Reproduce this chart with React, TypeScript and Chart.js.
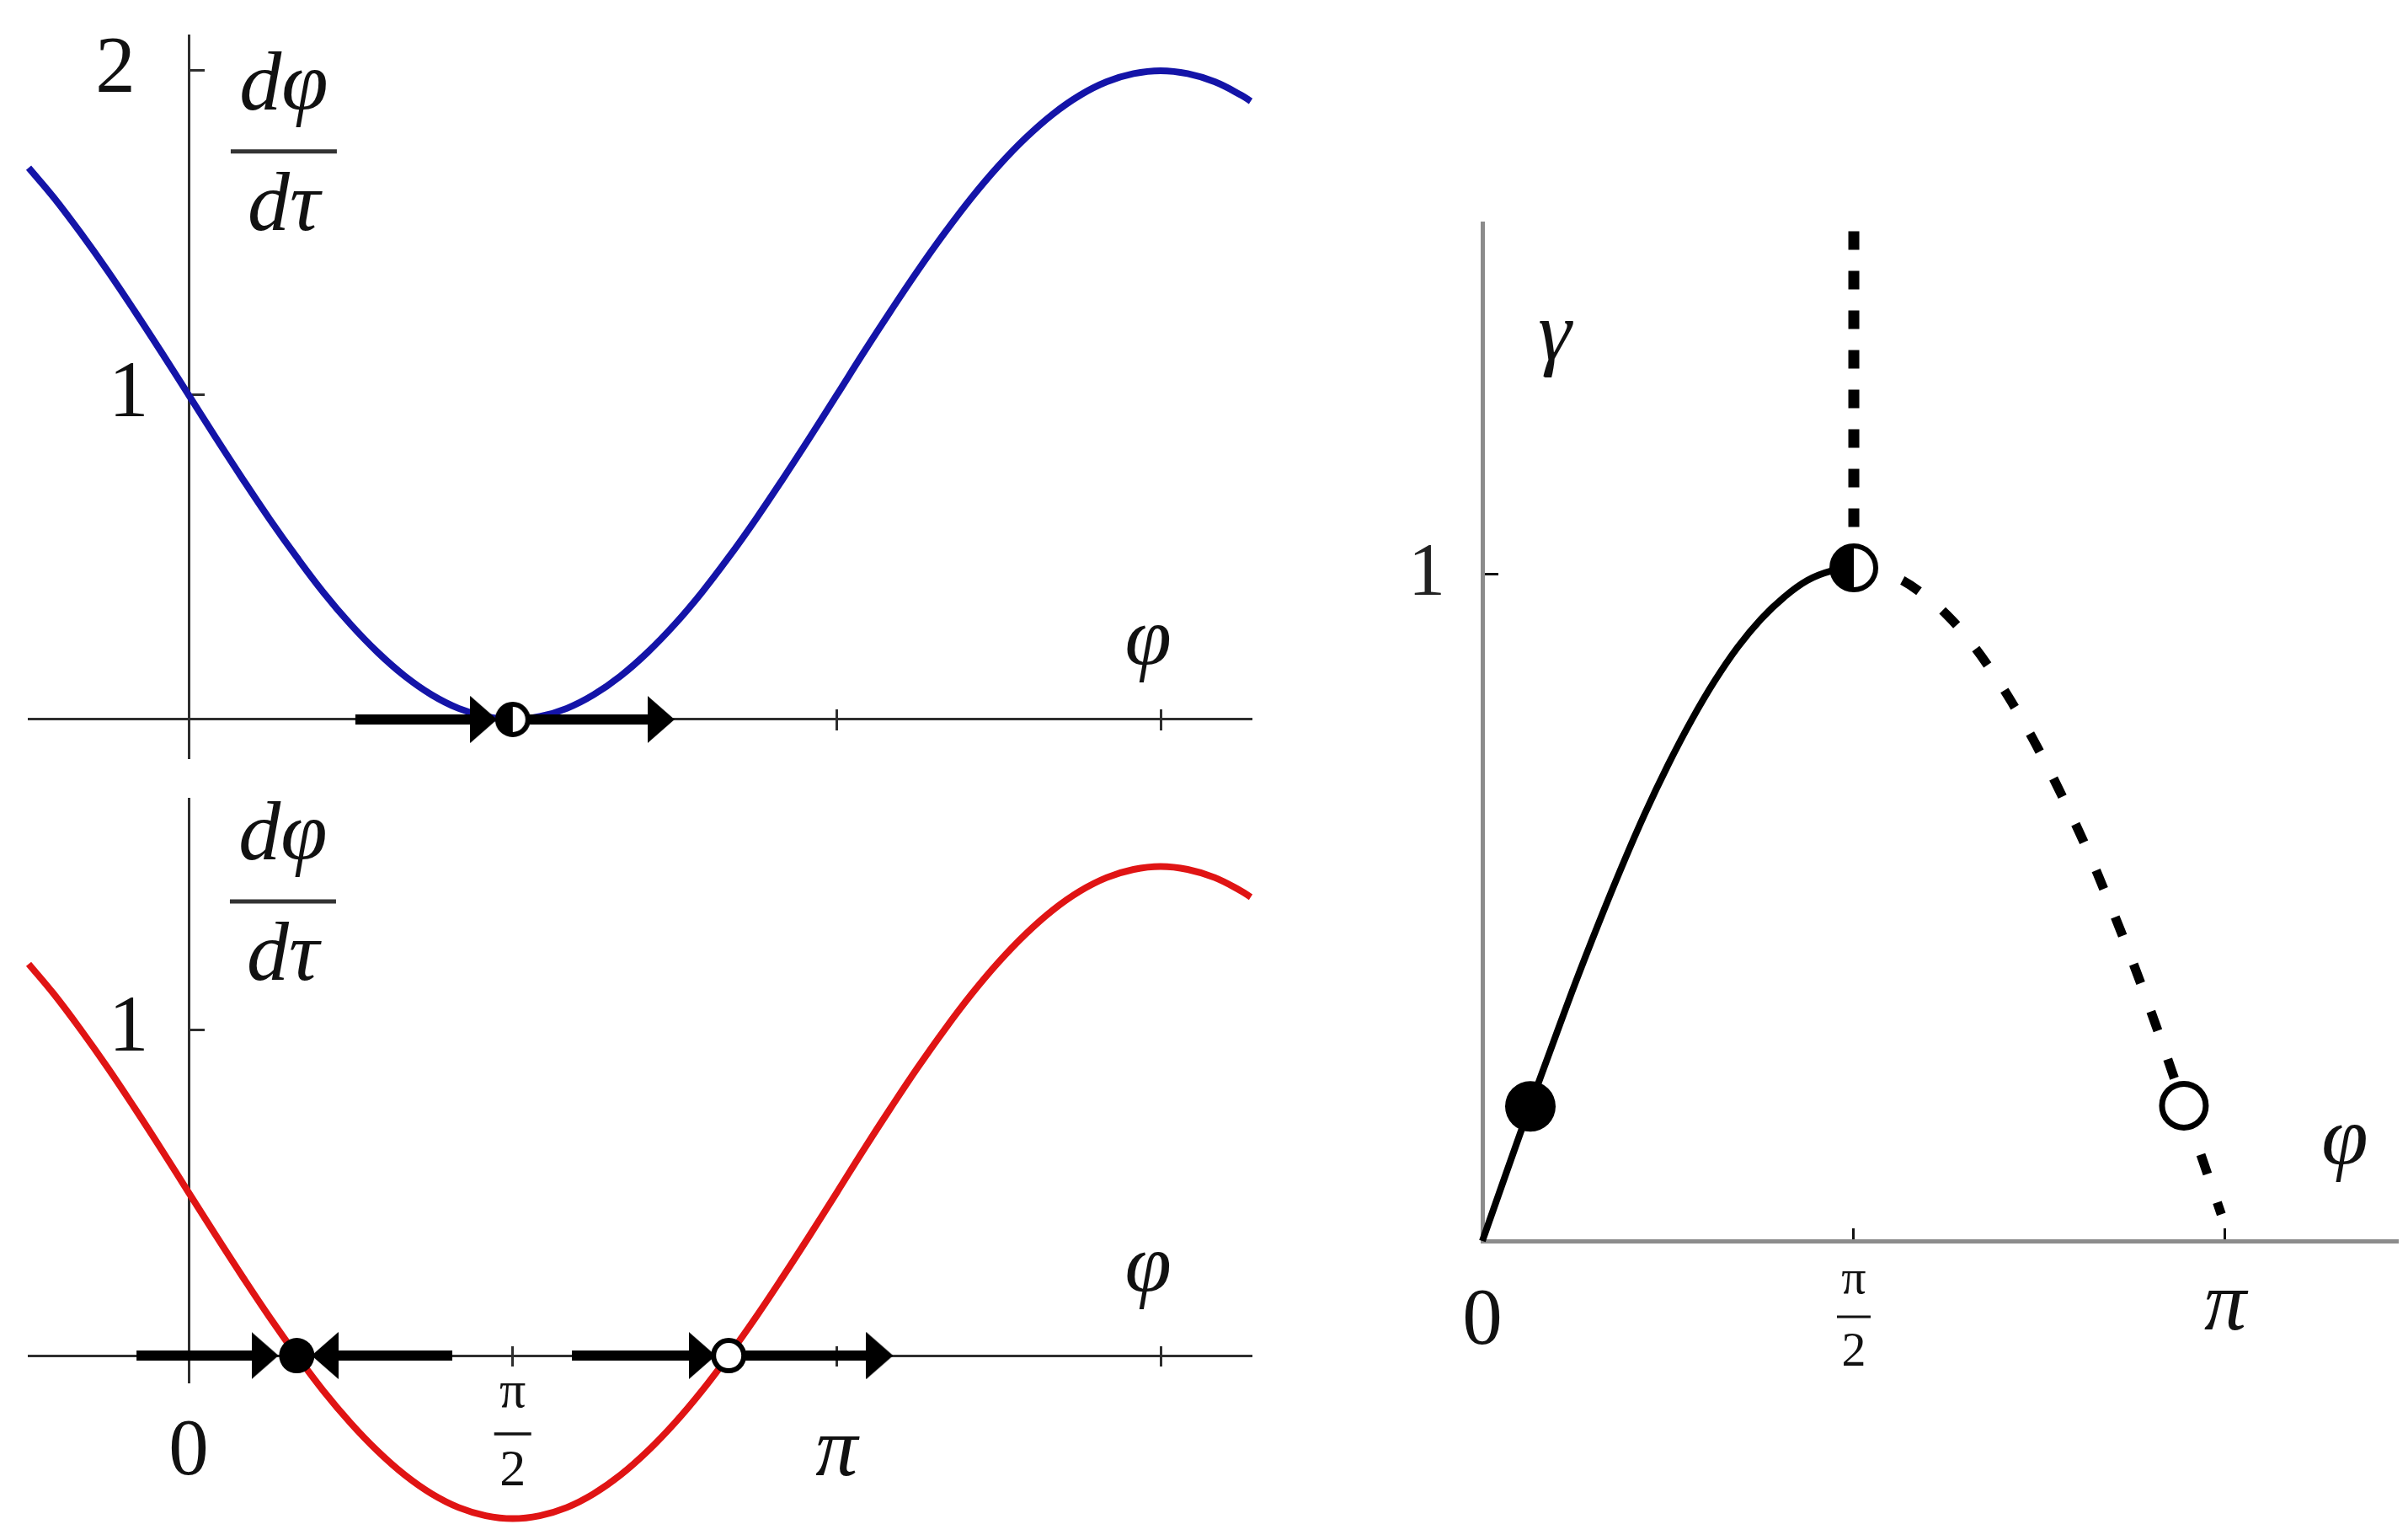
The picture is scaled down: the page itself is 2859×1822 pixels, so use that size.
import React, { useEffect, useRef } from 'react';
import { Chart, registerables } from 'chart.js';

Chart.register(...registerables);

const PI = Math.PI;

// ---------- data ----------
// φ samples (radians) shared by the two left panels
const PHI_SAMPLES = [
  -0.776, -0.654, -0.524, -0.393, -0.262, -0.131, 0, 0.131, 0.262, 0.393, 0.524, 0.654, 0.785, 0.916, 1.047, 1.178,
  1.309, 1.44, 1.571, 1.702, 1.833, 1.963, 2.094, 2.225, 2.356, 2.487, 2.618, 2.749, 2.88, 3.011, 3.142, 3.272,
  3.403, 3.534, 3.665, 3.796, 3.927, 4.058, 4.189, 4.32, 4.451, 4.581, 4.712, 4.843, 4.974, 5.105, 5.149,
];
// dφ/dτ, upper (blue) panel
const RATE_BLUE = [
  1.701, 1.609, 1.5, 1.383, 1.259, 1.131, 1.0, 0.869, 0.741, 0.617, 0.5, 0.391, 0.293, 0.207, 0.134, 0.076,
  0.034, 0.009, 0.0, 0.009, 0.034, 0.076, 0.134, 0.207, 0.293, 0.391, 0.5, 0.617, 0.741, 0.869, 1.0, 1.131,
  1.259, 1.383, 1.5, 1.609, 1.707, 1.793, 1.866, 1.924, 1.966, 1.991, 2.0, 1.991, 1.966, 1.924, 1.906,
];
// dφ/dτ, lower (red) panel
const RATE_RED = [
  1.201, 1.109, 1.0, 0.883, 0.759, 0.631, 0.5, 0.369, 0.241, 0.117, 0.0, -0.109, -0.207, -0.293, -0.366, -0.424,
  -0.466, -0.491, -0.5, -0.491, -0.466, -0.424, -0.366, -0.293, -0.207, -0.109, 0.0, 0.117, 0.241, 0.369, 0.5, 0.631,
  0.759, 0.883, 1.0, 1.109, 1.207, 1.293, 1.366, 1.424, 1.466, 1.491, 1.5, 1.491, 1.466, 1.424, 1.406,
];

// fixed points on the φ axis
const BLUE_HALF_STABLE = [1.571];
const RED_STABLE = [0.524];
const RED_UNSTABLE = [2.618];

// flow arrows on the φ axis: shafts [from, to] and arrow heads
const BLUE_FLOW = [[0.808, 1.43], [1.571, 2.28]];
const BLUE_HEADS_RIGHT = [1.43, 2.29];
const RED_FLOW = [[-0.253, 0.37], [0.66, 1.278], [1.858, 2.49], [2.618, 3.35]];
const RED_HEADS_RIGHT = [0.37, 2.49, 3.35];
const RED_HEADS_LEFT = [0.661];

// right panel: γ against φ
const PHI_STABLE_BRANCH = [0, 0.098, 0.196, 0.295, 0.393, 0.491, 0.589, 0.687, 0.785, 0.884, 0.982, 1.08, 1.178, 1.276, 1.374, 1.473, 1.571];
const GAMMA_STABLE_BRANCH = [0, 0.099, 0.197, 0.293, 0.387, 0.476, 0.561, 0.641, 0.714, 0.781, 0.84, 0.891, 0.933, 0.966, 0.991, 1.005, 1.01];
const PHI_UNSTABLE_BRANCH = [1.571, 1.669, 1.767, 1.865, 1.963, 2.062, 2.16, 2.258, 2.356, 2.454, 2.553, 2.651, 2.749, 2.847, 2.945, 3.043, 3.125];
const GAMMA_UNSTABLE_BRANCH = [1.01, 1.006, 0.993, 0.97, 0.94, 0.9, 0.852, 0.797, 0.735, 0.666, 0.591, 0.508, 0.42, 0.325, 0.225, 0.125, 0.04];
const PHI_VERTICAL = [1.571, 1.571];
const GAMMA_VERTICAL = [1.515, 1.01];
const GAMMA_STABLE_POINT = [0.203, 0.202];
const GAMMA_HALF_POINT = [1.571, 1.01];
const GAMMA_UNSTABLE_POINT = [2.967, 0.203];

// ticks
const LEFT_X_TICKS = [0, PI / 2, PI, (3 * PI) / 2];
const LEFT_X_LABELS: any[] = ['0', ['π', '2'], 'π', ''];
const RIGHT_X_TICKS = [0, PI / 2, PI];
const RIGHT_X_LABELS: any[] = ['0', ['π', '2'], 'π'];
const TOP_Y_TICKS = [1, 2];
const BOTTOM_Y_TICKS = [1];
const RIGHT_Y_TICKS = [1];

// ---------- styling ----------
const W = 2859;
const H = 1822;
const SERIF = '"Liberation Serif", "Times New Roman", Times, serif';
const INK = '#111111';
const AXIS_LEFT = '#2e2e2e';
const AXIS_RIGHT = '#8c8c8c';
const BLUE = '#1414a8';
const RED = '#e01414';
const LEFT_X_MIN = -0.776;
const LEFT_X_MAX = 5.149;

Chart.defaults.font.family = SERIF;

function setTicks(values: number[]) {
  return (scale: any) => {
    scale.ticks = values.map((value) => ({ value }));
  };
}
function zeroPad(scale: any) {
  scale.paddingLeft = 0;
  scale.paddingRight = 0;
  scale.paddingTop = 0;
  scale.paddingBottom = 0;
}
const pts = (xs: number[], ys: number[]) => xs.map((x, i) => ({ x, y: ys[i] }));
const onAxis = (xs: number[]) => xs.map((x) => ({ x, y: 0 }));
const near = (a: number, b: number) => Math.abs(a - b) < 1e-6;

function tickFont(frac: number[], zero: number[], pi: number[]) {
  return (ctx: any) => {
    const v = ctx.tick ? ctx.tick.value : 0;
    if (near(v, PI / 2)) return { family: SERIF, size: frac[0], lineHeight: frac[1] };
    if (near(v, PI)) return { family: SERIF, size: pi[0], lineHeight: pi[1], style: 'italic' };
    return { family: SERIF, size: zero[0], lineHeight: zero[1] };
  };
}

const yLabel = (v: any) => (v === 2 ? '2\u00a0\u00a0\u2006' : `${v}\u00a0\u00a0`);

const figureText = {
  id: 'figureText',
  afterDraw(chart: any, _args: any, opts: any) {
    const { ctx, scales } = chart;
    const items = (opts && opts.items) || [];
    ctx.save();
    ctx.fillStyle = INK;
    ctx.textAlign = 'center';
    ctx.textBaseline = 'alphabetic';
    for (const it of items) {
      if (it.kind === 'text') {
        const x = scales.x.getPixelForValue(it.at[0]);
        const y = scales.y.getPixelForValue(it.at[1]);
        ctx.font = `italic 100px ${SERIF}`;
        ctx.fillText(it.text, x, y);
      } else if (it.kind === 'fraction') {
        const x = scales.x.getPixelForValue(it.at[0]);
        const y = scales.y.getPixelForValue(it.at[1]);
        ctx.font = `italic 100px ${SERIF}`;
        ctx.fillText(it.top, x, y - 50);
        ctx.fillText(it.bottom, x, y + 93);
        ctx.beginPath();
        ctx.moveTo(x - 63, y);
        ctx.lineTo(x + 63, y);
        ctx.lineWidth = 5;
        ctx.strokeStyle = '#333333';
        ctx.stroke();
      } else if (it.kind === 'tickBar') {
        const x = scales.x.getPixelForValue(it.value);
        const y = scales.y.getPixelForValue(0) + it.dy;
        ctx.beginPath();
        ctx.moveTo(x - it.half, y);
        ctx.lineTo(x + it.half, y);
        ctx.lineWidth = it.width;
        ctx.strokeStyle = INK;
        ctx.stroke();
      }
    }
    ctx.restore();
  },
};

function makeArrowHead(w: number, h: number) {
  const c = document.createElement('canvas');
  c.width = w;
  c.height = h;
  const g = c.getContext('2d')!;
  g.fillStyle = '#000';
  g.beginPath();
  g.moveTo(0, 0);
  g.lineTo(w, h / 2);
  g.lineTo(0, h);
  g.closePath();
  g.fill();
  return c;
}

function makeHalfDot(r: number, lw: number) {
  const s = Math.ceil(2 * r + 2);
  const c = document.createElement('canvas');
  c.width = s;
  c.height = s;
  const g = c.getContext('2d')!;
  const m = s / 2;
  const ri = r - lw / 2;
  g.beginPath();
  g.arc(m, m, ri, 0, 2 * Math.PI);
  g.fillStyle = '#fff';
  g.fill();
  g.beginPath();
  g.moveTo(m, m);
  g.arc(m, m, ri, Math.PI / 2, Math.PI * 1.5);
  g.closePath();
  g.fillStyle = '#000';
  g.fill();
  g.beginPath();
  g.arc(m, m, ri, 0, 2 * Math.PI);
  g.lineWidth = lw;
  g.strokeStyle = '#000';
  g.stroke();
  return c;
}

function flowShafts(bars: number[][]) {
  return bars.map(([a, b]) => ({
    data: [{ x: a, y: 0 }, { x: b, y: 0 }],
    borderColor: '#000',
    borderWidth: 12,
    borderCapStyle: 'butt',
    pointRadius: 0,
    clip: false,
    order: 2,
  }));
}

const smoothCurve = { tension: 0.4, capBezierPoints: false, pointRadius: 0, clip: false };

function leftScales(yMin: number, yMax: number, yTicks: number[], xLabels: any[] | null) {
  return {
    x: {
      type: 'linear',
      min: LEFT_X_MIN,
      max: LEFT_X_MAX,
      position: { y: 0 },
      afterBuildTicks: setTicks(LEFT_X_TICKS),
      afterFit: zeroPad,
      border: { display: true, color: AXIS_LEFT, width: 3 },
      grid: { drawOnChartArea: false, drawTicks: true, tickLength: -13, color: AXIS_LEFT, lineWidth: 3 },
      ticks: xLabels
        ? {
            display: true,
            autoSkip: false,
            maxRotation: 0,
            minRotation: 0,
            padding: 11.5,
            color: INK,
            callback: (_v: any, i: number) => xLabels[i],
            font: tickFont([62, 1.5], [95, 2.47], [100, 2.35]),
          }
        : { display: false },
    },
    x2: {
      type: 'linear',
      axis: 'x',
      min: LEFT_X_MIN,
      max: LEFT_X_MAX,
      position: { y: 0 },
      afterBuildTicks: setTicks(LEFT_X_TICKS),
      afterFit: zeroPad,
      border: { display: false },
      grid: { drawOnChartArea: false, drawTicks: true, tickLength: 13, color: AXIS_LEFT, lineWidth: 3 },
      ticks: { display: false },
    },
    y: {
      type: 'linear',
      min: yMin,
      max: yMax,
      position: { x: 0 },
      afterBuildTicks: setTicks(yTicks),
      afterFit: zeroPad,
      border: { display: true, color: AXIS_LEFT, width: 3 },
      grid: { drawOnChartArea: false, drawTicks: true, tickLength: -20, color: AXIS_LEFT, lineWidth: 3 },
      ticks: {
        autoSkip: false,
        color: INK,
        font: { family: SERIF, size: 95 },
        callback: yLabel,
      },
    },
  };
}

const baseOptions = {
  responsive: false,
  maintainAspectRatio: false,
  animation: false,
  devicePixelRatio: 1,
  events: [],
};

function topConfig(): any {
  const arrow = makeArrowHead(32, 56);
  const half = makeHalfDot(21, 6);
  return {
    type: 'line',
    data: {
      datasets: [
        { data: onAxis(BLUE_HALF_STABLE), showLine: false, pointStyle: half, pointRadius: 10, clip: false, order: 0 },
        { data: onAxis(BLUE_HEADS_RIGHT), showLine: false, pointStyle: arrow, pointRadius: 10, clip: false, order: 1 },
        ...flowShafts(BLUE_FLOW),
        { data: pts(PHI_SAMPLES, RATE_BLUE), borderColor: BLUE, borderWidth: 8, ...smoothCurve, order: 3 },
      ],
    },
    options: {
      ...baseOptions,
      layout: { autoPadding: false, padding: { left: 34, right: W - 1485, top: 42, bottom: H - 899 } },
      scales: leftScales(-0.117, 2.109, TOP_Y_TICKS, null),
      plugins: {
        legend: { display: false },
        tooltip: { enabled: false },
        figureText: {
          items: [
            { kind: 'fraction', at: [0.461, 1.751], top: 'dφ', bottom: 'dτ' },
            { kind: 'text', at: [4.651, 0.169], text: 'φ' },
          ],
        },
      },
    },
    plugins: [figureText],
  };
}

function bottomConfig(): any {
  const arrow = makeArrowHead(32, 56);
  return {
    type: 'line',
    data: {
      datasets: [
        {
          data: onAxis(RED_STABLE),
          showLine: false,
          pointStyle: 'circle',
          pointRadius: 21,
          pointBorderWidth: 0,
          pointBackgroundColor: '#000',
          clip: false,
          order: 0,
        },
        {
          data: onAxis(RED_UNSTABLE),
          showLine: false,
          pointStyle: 'circle',
          pointRadius: 18,
          pointBorderWidth: 6,
          pointBorderColor: '#000',
          pointBackgroundColor: '#fff',
          clip: false,
          order: 0,
        },
        { data: onAxis(RED_HEADS_RIGHT), showLine: false, pointStyle: arrow, pointRadius: 10, clip: false, order: 1 },
        { data: onAxis(RED_HEADS_LEFT), showLine: false, pointStyle: arrow, pointRotation: 180, pointRadius: 10, clip: false, order: 1 },
        ...flowShafts(RED_FLOW),
        { data: pts(PHI_SAMPLES, RATE_RED), borderColor: RED, borderWidth: 8, ...smoothCurve, order: 3 },
      ],
    },
    options: {
      ...baseOptions,
      layout: { autoPadding: false, padding: { left: 34, right: W - 1485, top: 948, bottom: H - 1640 } },
      scales: leftScales(-0.08, 1.708, BOTTOM_Y_TICKS, LEFT_X_LABELS),
      plugins: {
        legend: { display: false },
        tooltip: { enabled: false },
        figureText: {
          items: [
            { kind: 'fraction', at: [0.457, 1.393], top: 'dφ', bottom: 'dτ' },
            { kind: 'text', at: [4.651, 0.196], text: 'φ' },
            { kind: 'tickBar', value: PI / 2, dy: 93, half: 22, width: 3.5 },
          ],
        },
      },
    },
    plugins: [figureText],
  };
}

function rightConfig(): any {
  const half = makeHalfDot(29, 6);
  return {
    type: 'line',
    data: {
      datasets: [
        {
          data: [{ x: GAMMA_STABLE_POINT[0], y: GAMMA_STABLE_POINT[1] }],
          showLine: false,
          pointStyle: 'circle',
          pointRadius: 30,
          pointBorderWidth: 0,
          pointBackgroundColor: '#000',
          clip: false,
          order: 0,
        },
        {
          data: [{ x: GAMMA_HALF_POINT[0], y: GAMMA_HALF_POINT[1] }],
          showLine: false,
          pointStyle: half,
          pointRadius: 10,
          clip: false,
          order: 0,
        },
        {
          data: [{ x: GAMMA_UNSTABLE_POINT[0], y: GAMMA_UNSTABLE_POINT[1] }],
          showLine: false,
          pointStyle: 'circle',
          pointRadius: 26,
          pointBorderWidth: 7,
          pointBorderColor: '#000',
          pointBackgroundColor: '#fff',
          clip: false,
          order: 0,
        },
        { data: pts(PHI_STABLE_BRANCH, GAMMA_STABLE_BRANCH), borderColor: '#000', borderWidth: 8, ...smoothCurve, order: 2 },
        {
          data: pts(PHI_UNSTABLE_BRANCH, GAMMA_UNSTABLE_BRANCH),
          borderColor: '#000',
          borderWidth: 11,
          borderDash: [24, 36],
          ...smoothCurve,
          order: 2,
        },
        {
          data: pts(PHI_VERTICAL, GAMMA_VERTICAL),
          borderColor: '#000',
          borderWidth: 13,
          borderDash: [22, 25],
          pointRadius: 0,
          clip: false,
          order: 2,
        },
      ],
    },
    options: {
      ...baseOptions,
      layout: { autoPadding: false, padding: { left: 1760, right: W - 2847, top: 265, bottom: H - 1473 } },
      scales: {
        x: {
          type: 'linear',
          min: 0,
          max: 3.872,
          position: { y: 0 },
          afterBuildTicks: setTicks(RIGHT_X_TICKS),
          afterFit: zeroPad,
          border: { display: true, color: AXIS_RIGHT, width: 5 },
          grid: {
            drawOnChartArea: false,
            drawTicks: true,
            tickLength: -18,
            tickWidth: 3,
            tickColor: (ctx: any) => (ctx.tick && near(ctx.tick.value, 0) ? 'rgba(0,0,0,0)' : INK),
          },
          ticks: {
            autoSkip: false,
            maxRotation: 0,
            minRotation: 0,
            padding: 22,
            color: INK,
            callback: (_v: any, i: number) => RIGHT_X_LABELS[i],
            font: tickFont([58, 1.48], [95, 1.96], [100, 1.5]),
          },
        },
        y: {
          type: 'linear',
          min: 0,
          max: 1.527,
          position: { x: 0 },
          afterBuildTicks: setTicks(RIGHT_Y_TICKS),
          afterFit: zeroPad,
          border: { display: true, color: AXIS_RIGHT, width: 5 },
          grid: { drawOnChartArea: false, drawTicks: true, tickLength: -21, tickWidth: 3, tickColor: INK },
          ticks: {
            autoSkip: false,
            color: '#222',
            font: { family: SERIF, size: 88 },
            callback: (v: any) => `${v}\u00a0\u00a0`,
          },
        },
      },
      plugins: {
        legend: { display: false },
        tooltip: { enabled: false },
        figureText: {
          items: [
            { kind: 'text', at: [0.306, 1.322], text: 'γ' },
            { kind: 'text', at: [3.647, 0.115], text: 'φ' },
            { kind: 'tickBar', value: PI / 2, dy: 90, half: 20, width: 3 },
          ],
        },
      },
    },
    plugins: [figureText],
  };
}

function Panel({ make }: { make: () => any }) {
  const ref = useRef<HTMLCanvasElement | null>(null);
  useEffect(() => {
    if (!ref.current) return;
    const chart = new Chart(ref.current, make());
    return () => chart.destroy();
  }, [make]);
  return (
    <canvas
      ref={ref}
      width={W}
      height={H}
      style={{ position: 'absolute', left: 0, top: 0, width: W, height: H }}
    />
  );
}

export default function App() {
  return (
    <div
      style={{
        position: 'fixed',
        left: 0,
        top: 0,
        width: W,
        height: H,
        background: '#ffffff',
        overflow: 'hidden',
      }}
    >
      <Panel make={topConfig} />
      <Panel make={bottomConfig} />
      <Panel make={rightConfig} />
    </div>
  );
}
